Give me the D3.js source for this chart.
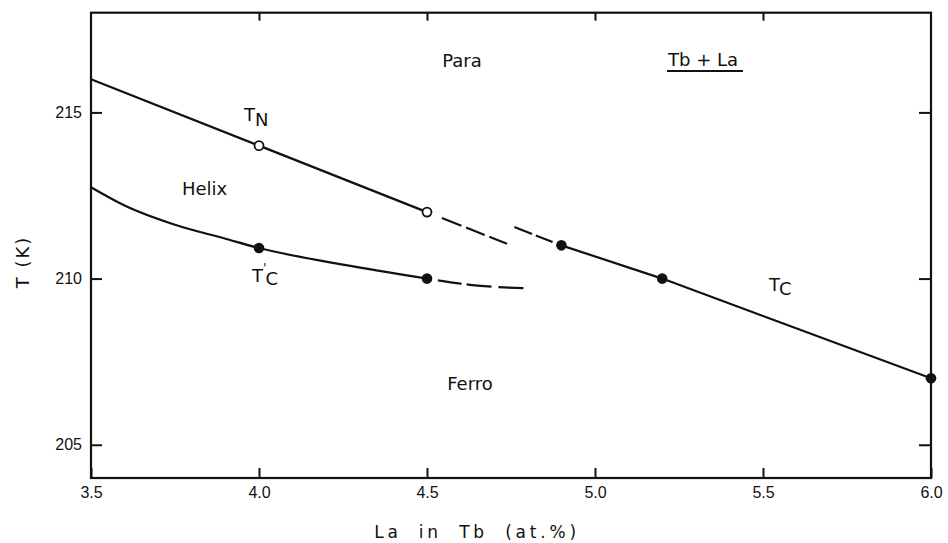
<!DOCTYPE html>
<html>
<head>
<meta charset="utf-8">
<script src="https://cdn.jsdelivr.net/npm/d3@7"></script>
<style>
  body { margin: 0; background: #fff; }
  svg text { fill: #111; }
  .tick text { font-family: "Liberation Sans", Arial, sans-serif; font-size: 16px; }
  .lbl { font-family: "DejaVu Sans", sans-serif; font-size: 18px; }
</style>
</head>
<body>
<svg id="chart" width="948" height="543"></svg>
<script>
// Axis ticks
const xTicks = [3.5, 4.0, 4.5, 5.0, 5.5, 6.0];
const xTickLabels = ["3.5", "4.0", "4.5", "5.0", "5.5", "6.0"];
const yTicks = [205, 210, 215];
const yTickLabels = ["205", "210", "215"];

// Néel line T_N (helix -> para), solid part and its dashed extension
const tnLa = [3.5, 4.0, 4.5];
const tnT = [216.0, 214.0, 212.0];
const tnPointLa = [4.0, 4.5];
const tnPointT = [214.0, 212.0];
const tnDashLa = [4.5, 4.74];
const tnDashT = [212.0, 211.04];

// Curie line T_C (ferro -> para)
const tcLa = [4.9, 5.2, 6.0];
const tcT = [211.0, 210.0, 207.0];
const tcDashLa = [4.76, 4.9];
const tcDashT = [211.55, 211.0];

// Helix -> ferro line T_C'
const tcpLa = [3.5, 3.6, 3.75, 3.9, 4.0, 4.25, 4.5];
const tcpT = [212.75, 212.2, 211.62, 211.2, 210.92, 210.42, 210.0];
const tcpPointLa = [4.0, 4.5];
const tcpPointT = [210.92, 210.0];
const tcpDashLa = [4.5, 4.65, 4.79];
const tcpDashT = [210.0, 209.79, 209.71];

const margin = { left: 91, right: 17, top: 12.7, bottom: 65 };
const W = 948, H = 543;
const svg = d3.select("#chart");
const g = svg.append("g").attr("transform", `translate(${margin.left},${margin.top})`);
const iw = W - margin.left - margin.right;
const ih = H - margin.top - margin.bottom;

const x = d3.scaleLinear().domain([3.5, 6.0]).range([0, iw]);
const y = d3.scaleLinear().domain([204, 218]).range([ih, 0]);

const zip = (a, b) => a.map((v, i) => [v, b[i]]);
const line = d3.line().x(d => x(d[0])).y(d => y(d[1]));
const curve = d3.line().x(d => x(d[0])).y(d => y(d[1])).curve(d3.curveMonotoneX);

// Frame
g.append("rect").attr("x", 0).attr("y", 0).attr("width", iw).attr("height", ih)
  .attr("fill", "none").attr("stroke", "#111").attr("stroke-width", 2.2);

// Axes with inward ticks
const xAxis = g.append("g").attr("transform", `translate(0,${ih})`)
  .call(d3.axisBottom(x).tickValues(xTicks).tickFormat((d, i) => xTickLabels[i])
    .tickSize(-10).tickSizeOuter(0).tickPadding(9));
const yAxis = g.append("g")
  .call(d3.axisLeft(y).tickValues(yTicks).tickFormat((d, i) => yTickLabels[i])
    .tickSize(-11).tickSizeOuter(0).tickPadding(9));
const xTop = g.append("g")
  .call(d3.axisTop(x).tickValues(xTicks.slice(1, -1)).tickFormat("")
    .tickSize(-8).tickSizeOuter(0));
const yRight = g.append("g").attr("transform", `translate(${iw},0)`)
  .call(d3.axisRight(y).tickValues(yTicks).tickFormat("")
    .tickSize(-12).tickSizeOuter(0));
[xAxis, yAxis, xTop, yRight].forEach(a => {
  a.select(".domain").remove();
  a.selectAll(".tick line").attr("stroke", "#111").attr("stroke-width", 2);
});

// Phase boundary lines
const stroke = (p) => p.attr("fill", "none").attr("stroke", "#111").attr("stroke-width", 2.2);
stroke(g.append("path").attr("d", line(zip(tnLa, tnT))));
stroke(g.append("path").attr("d", line(zip(tcLa, tcT))));
stroke(g.append("path").attr("d", curve(zip(tcpLa, tcpT))));
stroke(g.append("path").attr("d", line(zip(tnDashLa, tnDashT))))
  .attr("stroke-dasharray", "0 16 21 5 20 5 19 40");
stroke(g.append("path").attr("d", line(zip(tcDashLa, tcDashT))))
  .attr("stroke-dasharray", "19 4 18 40");
stroke(g.append("path").attr("d", curve(zip(tcpDashLa, tcpDashT))))
  .attr("stroke-dasharray", "0 11 24 5 25 7 25 40");

// Data points
g.selectAll(".tn").data(zip(tnPointLa, tnPointT)).join("circle")
  .attr("cx", d => x(d[0])).attr("cy", d => y(d[1])).attr("r", 4.5)
  .attr("fill", "#fff").attr("stroke", "#111").attr("stroke-width", 1.8);
g.selectAll(".tc").data(zip(tcLa, tcT).concat(zip(tcpPointLa, tcpPointT))).join("circle")
  .attr("cx", d => x(d[0])).attr("cy", d => y(d[1])).attr("r", 5.3)
  .attr("fill", "#111");

// Region and line labels
const txt = (px, py, s, anchor) => svg.append("text").attr("class", "lbl")
  .attr("x", px).attr("y", py).attr("text-anchor", anchor || "start").text(s);
txt(462, 67, "Para", "middle");
txt(470, 390, "Ferro", "middle");
txt(182, 195, "Helix");
txt(668, 66, "Tb + La");
svg.append("line").attr("x1", 667).attr("x2", 743).attr("y1", 71).attr("y2", 71)
  .attr("stroke", "#111").attr("stroke-width", 1.8);

const tN = txt(244, 121, "T");
tN.append("tspan").attr("dy", 5).text("N");

// T_C' : prime raised between T and the subscript
const tCp = txt(252, 282, "T");
tCp.append("tspan").attr("dx", 0).attr("dy", -10).style("font-size", "13px").text("'");
tCp.append("tspan").attr("dx", -1).attr("dy", 13).text("C");

const tC = txt(769, 291, "T");
tC.append("tspan").attr("dy", 4).text("C");

// Axis titles
svg.append("text").attr("class", "lbl")
  .attr("x", 477).attr("y", 538).attr("text-anchor", "middle")
  .style("font-size", "17px")
  .style("letter-spacing", "3.8px").style("word-spacing", "8px")
  .text("La in Tb (at.%)");
svg.append("text").attr("class", "lbl")
  .attr("transform", "translate(29,262) rotate(-90)").attr("text-anchor", "middle")
  .style("letter-spacing", "2px")
  .text("T (K)");
</script>
</body>
</html>
